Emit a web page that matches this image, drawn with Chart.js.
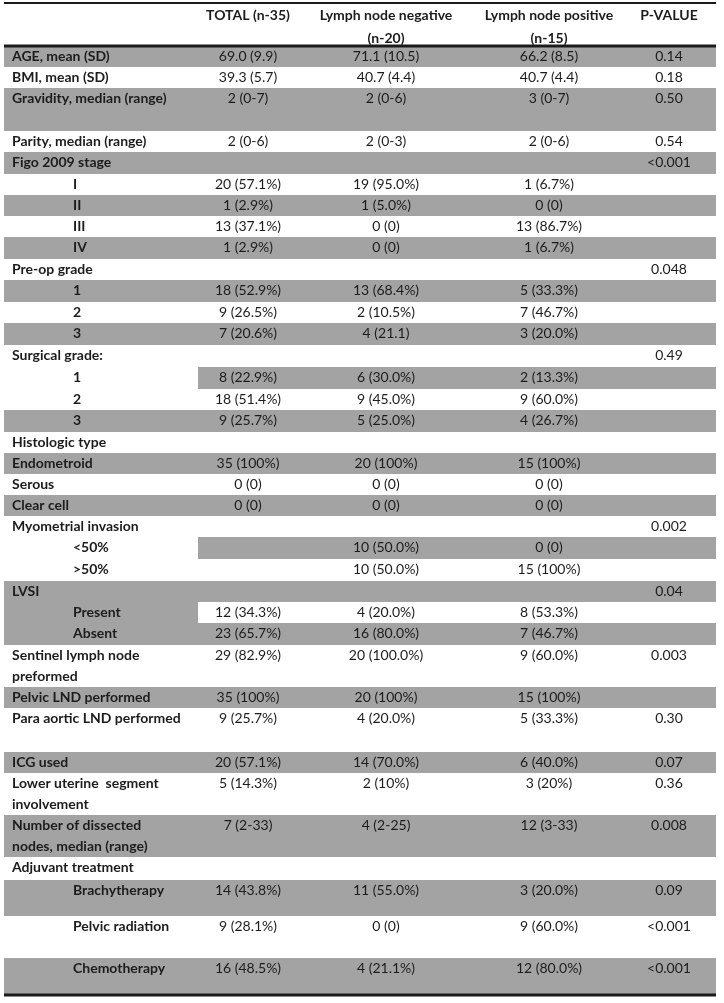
<!DOCTYPE html>
<html>
<head>
<meta charset="utf-8">
<script src="https://cdn.jsdelivr.net/npm/chart.js@4/dist/chart.umd.min.js"></script>
<style>
html,body{margin:0;padding:0;background:#ffffff;}
#wrap{width:724px;height:1003px;position:relative;}
</style>
</head>
<body>
<div id="wrap"><canvas id="c"></canvas></div>
<script>
// ---------------- DATA ----------------
const headerLine1 = ["TOTAL (n-35)", "Lymph node negative", "Lymph node positive", "P-VALUE"];
const headerLine2 = ["", "(n-20)", "(n-15)", ""];

const rowLabels = [
  "AGE, mean (SD)", "BMI, mean (SD)", "Gravidity, median (range)", "Parity, median (range)",
  "Figo 2009 stage", "I", "II", "III", "IV",
  "Pre-op grade", "1", "2", "3",
  "Surgical grade:", "1", "2", "3",
  "Histologic type", "Endometroid", "Serous", "Clear cell",
  "Myometrial invasion", "<50%", ">50%",
  "LVSI", "Present", "Absent",
  "Sentinel lymph node\npreformed", "Pelvic LND performed", "Para aortic LND performed",
  "ICG used", "Lower uterine  segment\ninvolvement", "Number of dissected\nnodes, median (range)",
  "Adjuvant treatment", "Brachytherapy", "Pelvic radiation", "Chemotherapy"
];

const totalCol = [
  "69.0 (9.9)", "39.3 (5.7)", "2 (0-7)", "2 (0-6)",
  "", "20 (57.1%)", "1 (2.9%)", "13 (37.1%)", "1 (2.9%)",
  "", "18 (52.9%)", "9 (26.5%)", "7 (20.6%)",
  "", "8 (22.9%)", "18 (51.4%)", "9 (25.7%)",
  "", "35 (100%)", "0 (0)", "0 (0)",
  "", "", "",
  "", "12 (34.3%)", "23 (65.7%)",
  "29 (82.9%)", "35 (100%)", "9 (25.7%)",
  "20 (57.1%)", "5 (14.3%)", "7 (2-33)",
  "", "14 (43.8%)", "9 (28.1%)", "16 (48.5%)"
];

const negativeCol = [
  "71.1 (10.5)", "40.7 (4.4)", "2 (0-6)", "2 (0-3)",
  "", "19 (95.0%)", "1 (5.0%)", "0 (0)", "0 (0)",
  "", "13 (68.4%)", "2 (10.5%)", "4 (21.1)",
  "", "6 (30.0%)", "9 (45.0%)", "5 (25.0%)",
  "", "20 (100%)", "0 (0)", "0 (0)",
  "", "10 (50.0%)", "10 (50.0%)",
  "", "4 (20.0%)", "16 (80.0%)",
  "20 (100.0%)", "20 (100%)", "4 (20.0%)",
  "14 (70.0%)", "2 (10%)", "4 (2-25)",
  "", "11 (55.0%)", "0 (0)", "4 (21.1%)"
];

const positiveCol = [
  "66.2 (8.5)", "40.7 (4.4)", "3 (0-7)", "2 (0-6)",
  "", "1 (6.7%)", "0 (0)", "13 (86.7%)", "1 (6.7%)",
  "", "5 (33.3%)", "7 (46.7%)", "3 (20.0%)",
  "", "2 (13.3%)", "9 (60.0%)", "4 (26.7%)",
  "", "15 (100%)", "0 (0)", "0 (0)",
  "", "0 (0)", "15 (100%)",
  "", "8 (53.3%)", "7 (46.7%)",
  "9 (60.0%)", "15 (100%)", "5 (33.3%)",
  "6 (40.0%)", "3 (20%)", "12 (3-33)",
  "", "3 (20.0%)", "9 (60.0%)", "12 (80.0%)"
];

const pValues = [
  "0.14", "0.18", "0.50", "0.54",
  "<0.001", "", "", "", "",
  "0.048", "", "", "",
  "0.49", "", "", "",
  "", "", "", "",
  "0.002", "", "",
  "0.04", "", "",
  "0.003", "", "0.30",
  "0.07", "0.36", "0.008",
  "", "0.09", "<0.001", "<0.001"
];

// ---------------- LAYOUT (kept apart from the data) ----------------
const rowHeights = [21,21,43,21, 22,21,21,21,22, 21,22,21,22, 22,22,21,22, 21,21,21,21, 21,22,22, 21,21,22, 42,21,44, 21,42,42, 23,36,42,37];
// F = full row shaded, N = none, D = data cells shaded, L = label cell shaded
const rowShade = "FNFN" + "FNFNF" + "NFNF" + "NDNF" + "NFNF" + "NDN" + "FLF" + "NFN" + "FNF" + "NFNF";
const rowIndent = [0,0,0,0, 0,1,1,1,1, 0,1,1,1, 0,1,1,1, 0,0,0,0, 0,1,1, 0,1,1, 0,0,0, 0,0,0, 0,1,1,1];

const W = 724, H = 1003;
const tableLeft = 4, tableRight = 716, labelColRight = 198;
const bodyTop = 46;
const colCenters = [248, 386, 549, 669];
const labelX = 12, indentX = 73;
const lineStep = 21, firstBaseline = 15;
const headerBaselines = [20, 43];
const rules = [{y: 3, t: 2}, {y: 46, t: 3}, {y: 995, t: 3}];
const shadeColor = "#a3a3a3";
const ruleColor = "#1a1a1a";
const textColor = "#1c1c1c";
const fontFamily = "Lato, 'Open Sans', sans-serif";

// row tops
const rowTops = [];
{ let y = bodyTop; for (const h of rowHeights) { rowTops.push(y); y += h; } }

// ---------------- DATASETS (shading + rules as floating bars) ----------------
const groups = new Map();
function addBar(key, thickness, color, x0, x1, yc) {
  if (!groups.has(key)) groups.set(key, {thickness, color, data: []});
  groups.get(key).data.push({x: [x0, x1], y: yc});
}
rowHeights.forEach((h, i) => {
  const s = rowShade[i];
  if (s === "N") return;
  let x0 = tableLeft, x1 = tableRight;
  if (s === "D") x0 = labelColRight;
  if (s === "L") x1 = labelColRight;
  addBar("shade" + h, h, shadeColor, x0, x1, rowTops[i] + h / 2);
});
rules.forEach(r => addBar("rule" + r.t, r.t, ruleColor, tableLeft, tableRight, r.y));

const datasets = [];
for (const [key, g] of groups) {
  datasets.push({
    label: key,
    data: g.data,
    backgroundColor: g.color,
    borderWidth: 0,
    barThickness: g.thickness,
    inflateAmount: 0,
    stack: "table",
    order: key.startsWith("rule") ? 0 : 1
  });
}

// ---------------- TEXT PLUGIN ----------------
const tableText = {
  id: "tableText",
  afterDatasetsDraw(chart) {
    const ctx = chart.ctx, xs = chart.scales.x, ys = chart.scales.y;
    ctx.save();
    ctx.fillStyle = textColor;
    ctx.textBaseline = "alphabetic";
    // header
    ctx.font = "bold 14px " + fontFamily;
    ctx.textAlign = "center";
    headerLine1.forEach((t, c) => { if (t) ctx.fillText(t, xs.getPixelForValue(colCenters[c]), ys.getPixelForValue(headerBaselines[0])); });
    headerLine2.forEach((t, c) => { if (t) ctx.fillText(t, xs.getPixelForValue(colCenters[c]), ys.getPixelForValue(headerBaselines[1])); });
    // rows
    const cols = [totalCol, negativeCol, positiveCol, pValues];
    rowLabels.forEach((lab, i) => {
      const base = rowTops[i] + firstBaseline;
      ctx.font = "bold 14px " + fontFamily;
      ctx.textAlign = "left";
      lab.split("\n").forEach((ln, k) => {
        ctx.fillText(ln, xs.getPixelForValue(rowIndent[i] ? indentX : labelX), ys.getPixelForValue(base + k * lineStep));
      });
      ctx.font = "14px " + fontFamily;
      ctx.textAlign = "center";
      cols.forEach((col, c) => {
        if (col[i]) ctx.fillText(col[i], xs.getPixelForValue(colCenters[c]), ys.getPixelForValue(base));
      });
    });
    ctx.restore();
  }
};

new Chart(document.getElementById("c"), {
  type: "bar",
  data: { datasets },
  options: {
    indexAxis: "y",
    responsive: true,
    maintainAspectRatio: false,
    animation: false,
    events: [],
    layout: { padding: 0 },
    plugins: { legend: { display: false }, tooltip: { enabled: false }, title: { display: false } },
    scales: {
      x: { type: "linear", min: 0, max: W, display: false, stacked: false, offset: false, grid: { display: false } },
      y: { type: "linear", min: 0, max: H, reverse: true, display: false, offset: false, grid: { display: false } }
    }
  },
  plugins: [tableText]
});
</script>
</body>
</html>
